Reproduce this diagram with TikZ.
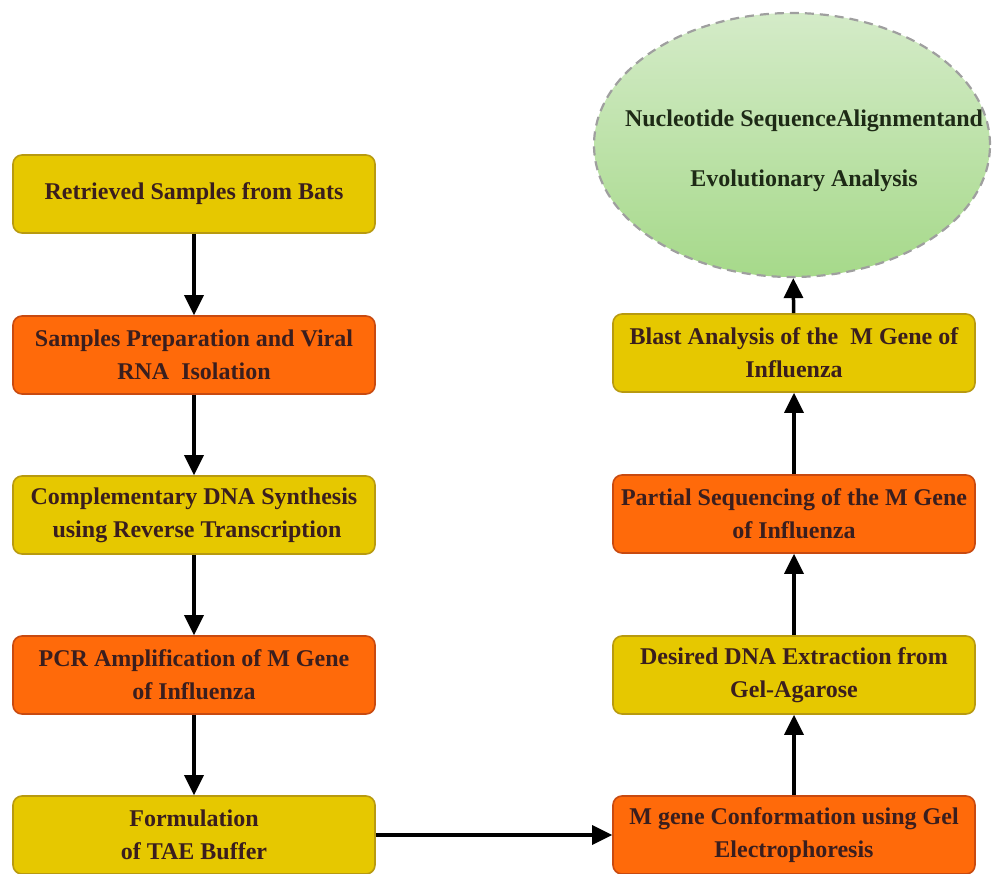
\documentclass[tikz,border=0pt]{standalone}
\usepackage{fontspec}
\setmainfont{Liberation Serif}
\usetikzlibrary{shapes.geometric,arrows.meta}
\definecolor{ybox}{HTML}{E6C800}
\definecolor{yedge}{HTML}{B89A10}
\definecolor{obox}{HTML}{FF6A0A}
\definecolor{oedge}{HTML}{C84A10}
\definecolor{txt}{HTML}{3A1E1E}
\definecolor{etxt}{HTML}{1E2A16}
\definecolor{gtop}{HTML}{D4EBC8}
\definecolor{gbot}{HTML}{A6D98A}
\begin{document}
\begin{tikzpicture}[x=1pt,y=-1pt,
  box/.style={rounded corners=9pt, line width=1.6pt, minimum width=362pt, align=center,
    inner sep=0pt, font=\fontsize{24}{33}\selectfont\bfseries, text=txt},
  ybx/.style={box, fill=ybox, draw=yedge, minimum height=78pt},
  obx/.style={box, fill=obox, draw=oedge, minimum height=78pt},
  arr/.style={-{Triangle[length=20pt,width=19pt]}, line width=3.5pt, black}]
\useasboundingbox (0,0) rectangle (1003,874);
% left column
\node[ybx] (a1) at (194,194) {Retrieved Samples from Bats};
\node[obx] (a2) at (194,355) {Samples Preparation and Viral\\RNA\ \ Isolation};
\node[ybx] (a3) at (194,515) {Complementary DNA Synthesis\\\ using Reverse Transcription};
\node[obx] (a4) at (194,675) {PCR Amplification of M Gene\\of Influenza};
\node[ybx] (a5) at (194,835) {Formulation\\of TAE Buffer};
% right column
\node[obx] (b1) at (794,835) {M gene Conformation using Gel\\Electrophoresis};
\node[ybx] (b2) at (794,675) {Desired DNA Extraction from\\Gel-Agarose};
\node[obx] (b3) at (794,514) {Partial Sequencing of the M Gene\\of Influenza};
\node[ybx] (b4) at (794,353) {Blast Analysis of the\ \ M Gene of\\Influenza};
\node[ellipse, draw=gray!75, dashed, dash pattern=on 9pt off 6pt, line width=2.2pt,
  top color=gtop, bottom color=gbot, minimum width=396pt, minimum height=264pt,
  inner sep=0pt] (e) at (792,145) {};
\node[align=center, text=etxt, inner sep=0pt,
  font=\fontsize{24}{60}\selectfont\bfseries] (et) at ([xshift=12pt,yshift=-6pt]e.center)
  {Nucleotide SequenceAlignmentand\\Evolutionary Analysis};
% arrows
\draw[arr] (a1) -- (a2);
\draw[arr] (a2) -- (a3);
\draw[arr] (a3) -- (a4);
\draw[arr] (a4) -- (a5);
\draw[arr] (a5) -- (b1);
\draw[arr] (b1) -- (b2);
\draw[arr] (b2) -- (b3);
\draw[arr] (b3) -- (b4);
\draw[arr] (b4) -- (e);
\end{tikzpicture}
\end{document}
